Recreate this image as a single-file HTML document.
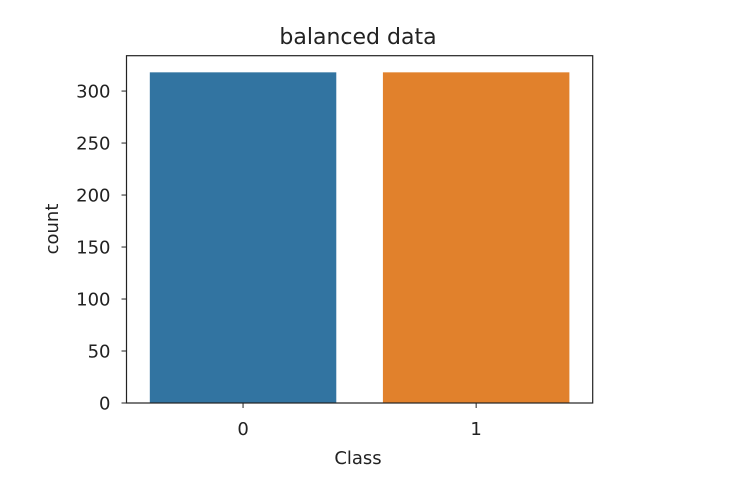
<!DOCTYPE html>
<html><head><meta charset="utf-8"><style>
body{margin:0;background:#fff;width:753px;height:489px;overflow:hidden}
svg{font-family:"DejaVu Sans","Liberation Sans",sans-serif}
</style></head><body>
<svg id="chart" width="753" height="489">
<text x="358" y="44" font-size="22" text-anchor="middle" fill="#222">balanced data</text>
<g id="bars"></g><g id="axes"></g>
<text x="358" y="464" font-size="18" text-anchor="middle" fill="#222">Class</text>
<text transform="translate(58,229) rotate(-90)" font-size="18" text-anchor="middle" fill="#222">count</text>
</svg>
<script>
const categories=["0","1"];
const counts=[318,318];
const colors=["#3274a1","#e1812c"];
const yTicks=[0,50,100,150,200,250,300];
const L=126.5,R=592.7,T=55.7,B=403,yMax=334;
const NS="http://www.w3.org/2000/svg";
function xs(i){return L+(i+0.5)*(R-L)/categories.length;}
function ys(v){return B-(v/yMax)*(B-T);}
const bw=0.8*(R-L)/categories.length;
const gb=document.getElementById('bars'),ga=document.getElementById('axes');
function mk(t,a,p){const e=document.createElementNS(NS,t);for(const k in a)e.setAttribute(k,a[k]);p.appendChild(e);return e;}
counts.forEach((v,i)=>{
 const r=mk('rect',{x:xs(i)-bw/2,y:ys(v),width:bw,height:B-ys(v),fill:colors[i]},gb);
 
 
 const tk=mk('line',{x1:xs(i),x2:xs(i),y1:B,y2:B+5,stroke:'#222','stroke-width':1},ga);
 
 
 const tl=mk('text',{x:xs(i),y:B+32,'font-size':18,'text-anchor':'middle',fill:'#222'},ga);
 tl.textContent=categories[i];
 
 
});
yTicks.forEach(v=>{
 const tk=mk('line',{x1:L-5,x2:L,y1:ys(v),y2:ys(v),stroke:'#222','stroke-width':1},ga);
 
 
 const tl=mk('text',{x:L-16,y:ys(v)+6.5,'font-size':18,'text-anchor':'end',fill:'#222'},ga);
 tl.textContent=v;
 
 
});
const fr=mk('rect',{x:L,y:T,width:R-L,height:B-T,fill:'none',stroke:'#222','stroke-width':1.2},ga);


</script>
</body></html>
